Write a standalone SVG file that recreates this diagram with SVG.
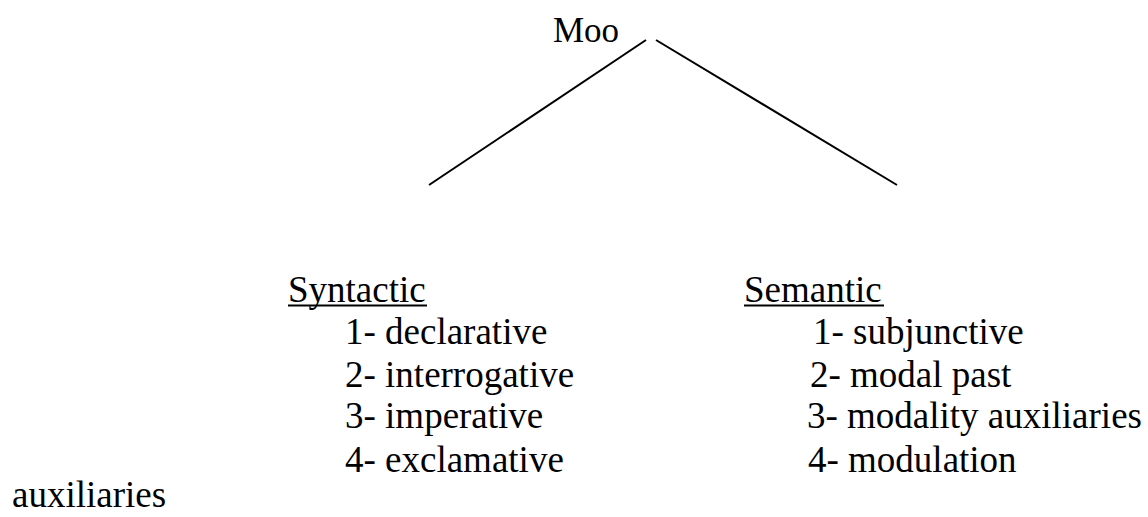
<svg xmlns="http://www.w3.org/2000/svg" width="1148" height="517" viewBox="0 0 1148 517">
<style>
text{font-family:"Liberation Serif","Times New Roman",serif;font-size:37px;fill:#000}
.edge{stroke:#000;stroke-width:2;fill:none}
.ul{stroke:#000;stroke-width:2}
</style>
<rect width="1148" height="517" fill="#fff"/>
<g id="connectors">
<line class="edge" x1="646" y1="40" x2="429" y2="185"/>
<line class="edge" x1="656" y1="40" x2="897" y2="185"/>
</g>
<g id="node-moo"><text x="553" y="42" style="font-size:35px">Moo</text></g>
<g id="node-syntactic">
<text x="288" y="302">Syntactic</text>
<line class="ul" x1="288" y1="305.5" x2="427" y2="305.5"/>
<text x="345" y="344">1- declarative</text>
<text x="345" y="387">2- interrogative</text>
<text x="345" y="428">3- imperative</text>
<text x="345" y="472">4- exclamative</text>
</g>
<g id="node-semantic">
<text x="744" y="302">Semantic</text>
<line class="ul" x1="744" y1="305.5" x2="884" y2="305.5"/>
<text x="813" y="344">1- subjunctive</text>
<text x="810" y="387">2- modal past</text>
<text x="807" y="428">3- modality auxiliaries</text>
<text x="808" y="472">4- modulation</text>
</g>
<text x="12" y="507">auxiliaries</text>
</svg>
